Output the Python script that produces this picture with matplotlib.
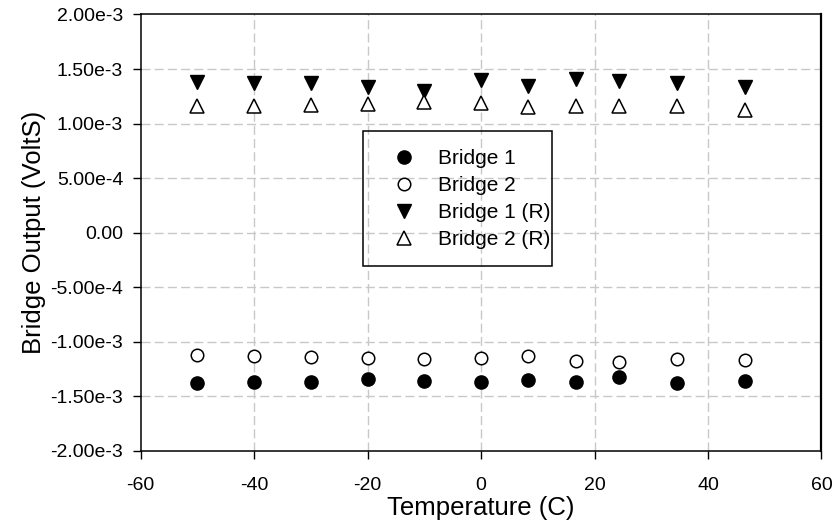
import matplotlib
matplotlib.use('Agg')
import matplotlib.pyplot as plt
from matplotlib.patches import Rectangle

plt.rcParams['font.family'] = ['Liberation Sans', 'DejaVu Sans']
plt.rcParams['axes.unicode_minus'] = False

temperature = [-50, -40, -30, -20, -10, 0, 8.2, 16.7, 24.3, 34.5, 46.5]
bridge1 = [-1.377e-3, -1.372e-3, -1.372e-3, -1.341e-3, -1.363e-3, -1.372e-3,
           -1.347e-3, -1.366e-3, -1.326e-3, -1.377e-3, -1.363e-3]
bridge2 = [-1.117e-3, -1.126e-3, -1.136e-3, -1.148e-3, -1.157e-3, -1.148e-3,
           -1.126e-3, -1.172e-3, -1.188e-3, -1.157e-3, -1.166e-3]
bridge1_r = [1.377e-3, 1.372e-3, 1.372e-3, 1.335e-3, 1.295e-3, 1.396e-3,
             1.347e-3, 1.411e-3, 1.387e-3, 1.372e-3, 1.331e-3]
bridge2_r = [1.157e-3, 1.157e-3, 1.172e-3, 1.179e-3, 1.194e-3, 1.188e-3,
             1.151e-3, 1.163e-3, 1.157e-3, 1.163e-3, 1.126e-3]

xticks = [-60, -40, -20, 0, 20, 40, 60]
yticks = [-2e-3, -1.5e-3, -1e-3, -5e-4, 0, 5e-4, 1e-3, 1.5e-3, 2e-3]
ytick_labels = ['-2.00e-3', '-1.50e-3', '-1.00e-3', '-5.00e-4', '0.00',
                '5.00e-4', '1.00e-3', '1.50e-3', '2.00e-3']

fig = plt.figure(figsize=(8.38, 5.25), dpi=100)
ax = fig.add_axes([0.1677, 0.141, 0.8126, 0.8314])

ax.plot(temperature, bridge1, 'o', ls='none', color='black', ms=9.5, label='Bridge 1')
ax.plot(temperature, bridge2, 'o', ls='none', mfc='white', mec='black', mew=1.1,
        ms=9, label='Bridge 2')
ax.plot(temperature, bridge1_r, 'v', ls='none', color='black', ms=10.5, label='Bridge 1 (R)')
ax.plot(temperature, bridge2_r, '^', ls='none', mfc='white', mec='black', mew=1.1,
        ms=10, label='Bridge 2 (R)')

ax.set_xlim(-60, 60)
ax.set_ylim(-2e-3, 2e-3)
ax.set_xticks(xticks)
ax.set_yticks(yticks)
ax.set_yticklabels(ytick_labels)

# dashed grid only on the inner ticks
for x in xticks[1:-1]:
    ax.axvline(x, color='#c8c8c8', lw=1.0, ls=(0, (6.5, 3)), zorder=0)
for y in yticks[1:-1]:
    ax.axhline(y, color='#c8c8c8', lw=1.0, ls=(0, (6.5, 3)), zorder=0)

ax.tick_params(axis='both', direction='out', length=6, width=1, labelsize=14)
ax.tick_params(axis='x', pad=13)
ax.tick_params(axis='y', pad=6.5)
for side in ['left', 'top', 'bottom']:
    ax.spines[side].set_linewidth(1.1)
ax.spines['right'].set_linewidth(1.6)

ax.set_xlabel('Temperature (C)', fontsize=18.5, labelpad=1)
ax.set_ylabel('Bridge Output (VoltS)', fontsize=18.5, labelpad=3)

leg = ax.legend(loc='upper left', bbox_to_anchor=(0.326, 0.732), fontsize=15,
                frameon=False, borderpad=0.85, labelspacing=0.38,
                handlelength=2.25, handletextpad=0.5, borderaxespad=0)
ax.add_patch(Rectangle((0.326, 0.424), 0.278, 0.308, transform=ax.transAxes,
                       fill=False, edgecolor='black', lw=1.1, zorder=5))

fig.savefig('out.png', dpi=100)
